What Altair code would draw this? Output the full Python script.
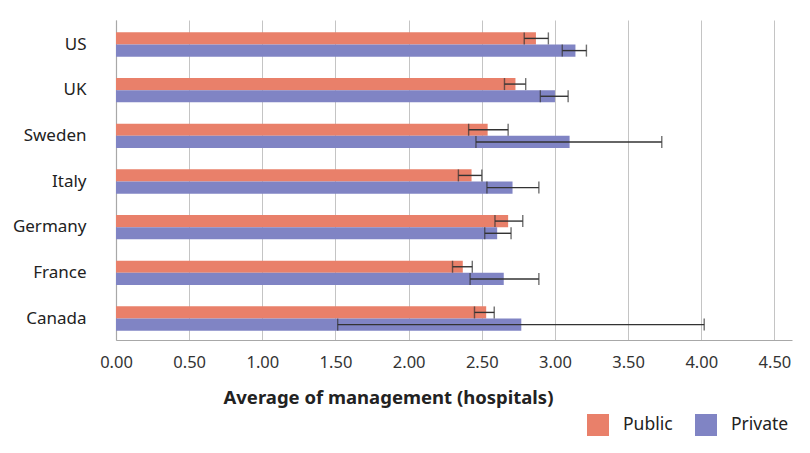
import altair as alt
import pandas as pd

countries = ["US", "UK", "Sweden", "Italy", "Germany", "France", "Canada"]
public_mean = [2.87, 2.73, 2.54, 2.43, 2.68, 2.37, 2.53]
public_lo = [2.79, 2.655, 2.41, 2.34, 2.59, 2.30, 2.45]
public_hi = [2.955, 2.80, 2.68, 2.50, 2.78, 2.435, 2.585]
private_mean = [3.14, 3.00, 3.10, 2.71, 2.605, 2.65, 2.77]
private_lo = [3.05, 2.90, 2.46, 2.535, 2.52, 2.42, 1.515]
private_hi = [3.215, 3.09, 3.73, 2.89, 2.70, 2.89, 4.02]
ownership = ["Public", "Private"]
colors = ["#E9806A", "#8084C4"]
x_ticks = [0, 0.5, 1, 1.5, 2, 2.5, 3, 3.5, 4, 4.5]

rows = []
for i, c in enumerate(countries):
    rows.append({"country": c, "type": "Public", "mean": public_mean[i],
                 "lo": public_lo[i], "hi": public_hi[i]})
    rows.append({"country": c, "type": "Private", "mean": private_mean[i],
                 "lo": private_lo[i], "hi": private_hi[i]})
df = pd.DataFrame(rows)

font = "Noto Sans"

y_enc = alt.Y(
    "country:N",
    sort=countries,
    scale=alt.Scale(paddingInner=0.466, paddingOuter=0.2365, align=0.57),
    axis=alt.Axis(
        title=None, ticks=False, labelPadding=30, labelFontSize=17,
        labelColor="#222", labelFont=font, domainColor="#a8a8a8",
        domainWidth=1.2,
    ),
)
yoff = alt.YOffset("type:N", sort=ownership, scale=alt.Scale(domain=ownership))

bars = alt.Chart(df).mark_bar().encode(
    x=alt.X(
        "mean:Q",
        scale=alt.Scale(domain=[0, 4.62], nice=False),
        axis=alt.Axis(
            values=x_ticks, format=".2f", ticks=False, grid=True,
            gridColor="#c4c4c4", gridWidth=1, domainColor="#a8a8a8",
            domainWidth=1.2, labelFontSize=16.5, labelColor="#333",
            labelFont=font, labelPadding=14, labelFlush=False,
            title="Average of management (hospitals)", titleFont=font,
            titleFontSize=18.5, titleFontWeight="bold", titleColor="#222",
            titleAnchor="start", titleX=107, titleY=48, titleAlign="left",
            titleBaseline="top",
        ),
    ),
    y=y_enc,
    yOffset=yoff,
    color=alt.Color(
        "type:N",
        scale=alt.Scale(domain=ownership, range=colors),
        legend=alt.Legend(
            title=None, orient="none", legendX=471, legendY=394,
            direction="horizontal", symbolType="square", symbolSize=484,
            symbolStrokeWidth=0, labelFontSize=17.5, labelFont=font,
            labelColor="#222", labelOffset=14, columnPadding=22,
        ),
    ),
)

err = alt.Chart(df).mark_rule(color="#333", strokeWidth=1.4).encode(
    x="lo:Q", x2="hi:Q", y=alt.Y("country:N", sort=countries), yOffset=yoff,
)

cap_lo = alt.Chart(df).mark_tick(color="#333", size=12, thickness=1.4, orient="vertical").encode(
    x="lo:Q", y=alt.Y("country:N", sort=countries), yOffset=yoff,
)
cap_hi = alt.Chart(df).mark_tick(color="#333", size=12, thickness=1.4, orient="vertical").encode(
    x="hi:Q", y=alt.Y("country:N", sort=countries), yOffset=yoff,
)

chart = (
    alt.layer(bars, err, cap_lo, cap_hi)
    .properties(
        width=676, height=320, autosize=alt.AutoSizeParams(type="none"),
        padding={"left": 108, "top": 12, "right": 10, "bottom": 105},
    )
    .configure_view(stroke=None)
)

chart.save("out.html", embed_options={"renderer": "svg", "actions": False})
